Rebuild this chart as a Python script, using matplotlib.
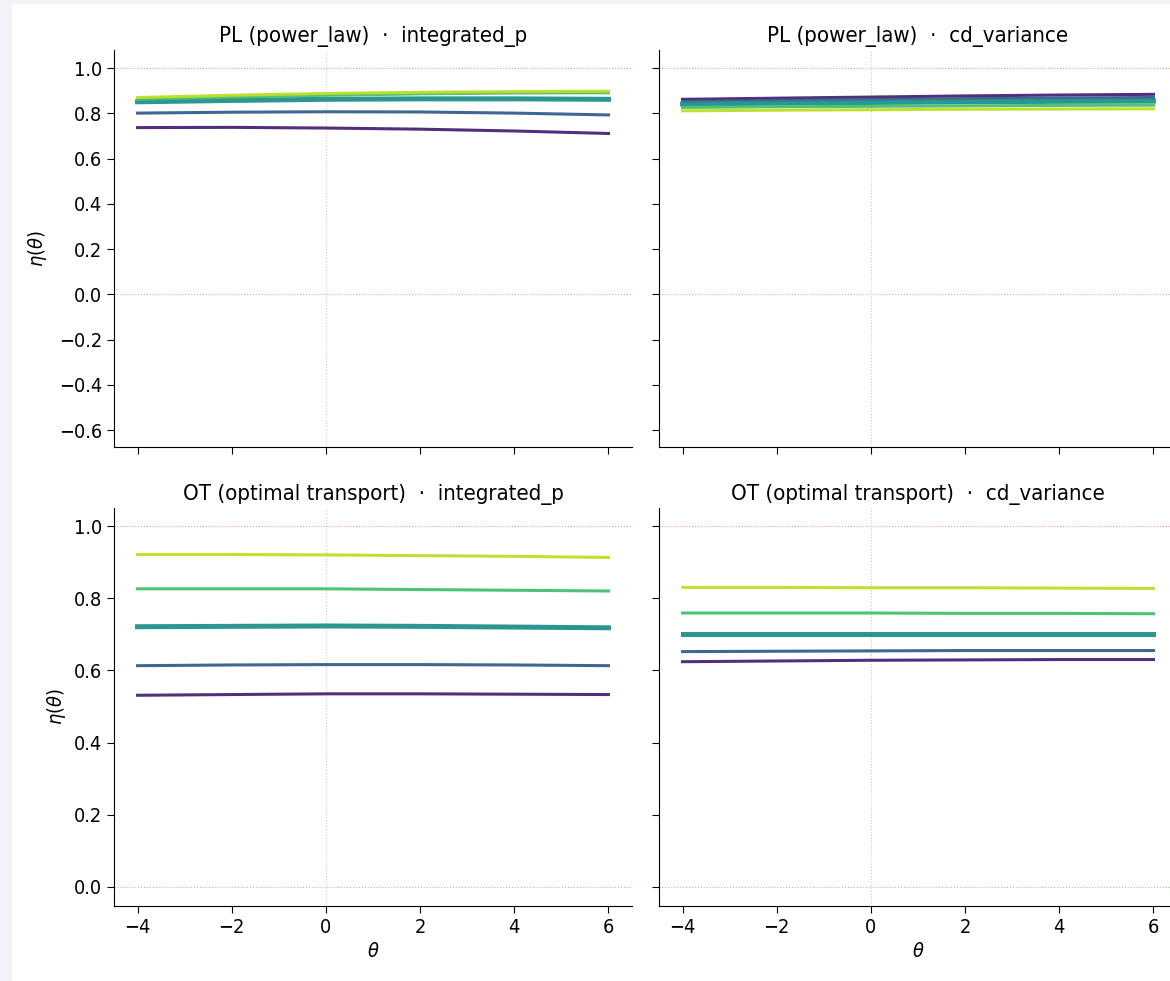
import numpy as np
import matplotlib.pyplot as plt
from matplotlib.patches import Rectangle
from matplotlib import font_manager

# data
theta = [-4, -2, 0, 2, 4, 6]
# PL (power_law) - integrated_p
pl_int_1 = [0.737, 0.738, 0.735, 0.730, 0.722, 0.711]
pl_int_2 = [0.801, 0.805, 0.807, 0.806, 0.801, 0.793]
pl_int_3 = [0.851, 0.857, 0.862, 0.864, 0.864, 0.862]
pl_int_4 = [0.862, 0.872, 0.880, 0.886, 0.890, 0.891]
pl_int_5 = [0.870, 0.880, 0.888, 0.893, 0.896, 0.898]
# PL (power_law) - cd_variance
pl_cd_1 = [0.862, 0.867, 0.872, 0.877, 0.881, 0.884]
pl_cd_2 = [0.852, 0.857, 0.861, 0.865, 0.868, 0.870]
pl_cd_3 = [0.841, 0.845, 0.848, 0.851, 0.853, 0.854]
pl_cd_4 = [0.826, 0.829, 0.831, 0.833, 0.835, 0.836]
pl_cd_5 = [0.811, 0.814, 0.816, 0.818, 0.819, 0.820]
# OT (optimal transport) - integrated_p
ot_int_1 = [0.531, 0.533, 0.535, 0.535, 0.534, 0.533]
ot_int_2 = [0.613, 0.615, 0.616, 0.616, 0.615, 0.613]
ot_int_3 = [0.721, 0.722, 0.723, 0.722, 0.720, 0.718]
ot_int_4 = [0.826, 0.826, 0.826, 0.824, 0.822, 0.820]
ot_int_5 = [0.921, 0.921, 0.920, 0.918, 0.916, 0.913]
# OT (optimal transport) - cd_variance
ot_cd_1 = [0.624, 0.626, 0.628, 0.629, 0.630, 0.630]
ot_cd_2 = [0.652, 0.653, 0.654, 0.655, 0.655, 0.655]
ot_cd_3 = [0.700, 0.700, 0.700, 0.700, 0.700, 0.700]
ot_cd_4 = [0.759, 0.759, 0.759, 0.758, 0.758, 0.757]
ot_cd_5 = [0.830, 0.830, 0.829, 0.829, 0.828, 0.827]

titles = ['PL (power_law)  ·  integrated_p', 'PL (power_law)  ·  cd_variance',
          'OT (optimal transport)  ·  integrated_p', 'OT (optimal transport)  ·  cd_variance']
panels = [[pl_int_1, pl_int_2, pl_int_3, pl_int_4, pl_int_5],
          [pl_cd_1, pl_cd_2, pl_cd_3, pl_cd_4, pl_cd_5],
          [ot_int_1, ot_int_2, ot_int_3, ot_int_4, ot_int_5],
          [ot_cd_1, ot_cd_2, ot_cd_3, ot_cd_4, ot_cd_5]]

colors = plt.cm.viridis(np.linspace(0.1, 0.9, 5))
widths = [2.2, 2.2, 3.6, 2.2, 2.2]

# narrower glyphs, like the reference
names = {f.name for f in font_manager.fontManager.ttflist}
if 'DejaVu Sans Condensed' in names:
    plt.rcParams['font.family'] = 'DejaVu Sans Condensed'
plt.rcParams['font.stretch'] = 'condensed'
plt.rcParams['mathtext.fontset'] = 'dejavusans'

W, H = 1170, 981
fig = plt.figure(figsize=(W / 100, H / 100), dpi=100, facecolor='#f1f3f8')
fig.patches.append(Rectangle((12 / W, 0), 1, 1 - 4 / H, transform=fig.transFigure,
                             facecolor='white', edgecolor='none', zorder=-1))

def px(x0, x1, ytop, ybot):
    return [x0 / W, 1 - ybot / H, (x1 - x0) / W, (ybot - ytop) / H]

boxes = [px(114, 632, 50, 447), px(659, 1177, 50, 447),
         px(114, 632, 508, 906), px(659, 1177, 508, 906)]
ylims = [(-0.675, 1.08), (-0.675, 1.08), (-0.053, 1.05), (-0.053, 1.05)]

for i, box in enumerate(boxes):
    ax = fig.add_axes(box)
    ax.axhline(1.0, color='#f08080', ls=':', lw=0.8, alpha=0.8, zorder=0)
    ax.axhline(0.0, color='#80c080', ls=':', lw=0.8, alpha=0.8, zorder=0)
    ax.axvline(0.0, color='#cccccc', ls=':', lw=0.8, zorder=0)
    for s, c, w in zip(panels[i], colors, widths):
        ax.plot(theta, s, color=c, lw=w, alpha=0.95)
    ax.set_xlim(-4.5, 6.5)
    ax.set_ylim(*ylims[i])
    if i < 2:
        ax.set_yticks(np.arange(-0.6, 1.01, 0.2))
    else:
        ax.set_yticks(np.arange(0.0, 1.01, 0.2))
    ax.set_xticks([-4, -2, 0, 2, 4, 6])
    ax.spines['top'].set_visible(False)
    ax.spines['right'].set_visible(False)
    ax.tick_params(labelsize=14.3, length=5)
    ax.set_title(titles[i], fontsize=15.9)
    if i < 2:
        ax.tick_params(labelbottom=False)
    else:
        ax.set_xlabel(r'$\theta$', fontsize=14.3)
    if i % 2 == 1:
        ax.tick_params(labelleft=False)
    else:
        ax.set_ylabel(r'$\eta(\theta)$', fontsize=14.3, labelpad=7.5 if i == 0 else 4)

fig.savefig('out.png', dpi=100, facecolor=fig.get_facecolor())
